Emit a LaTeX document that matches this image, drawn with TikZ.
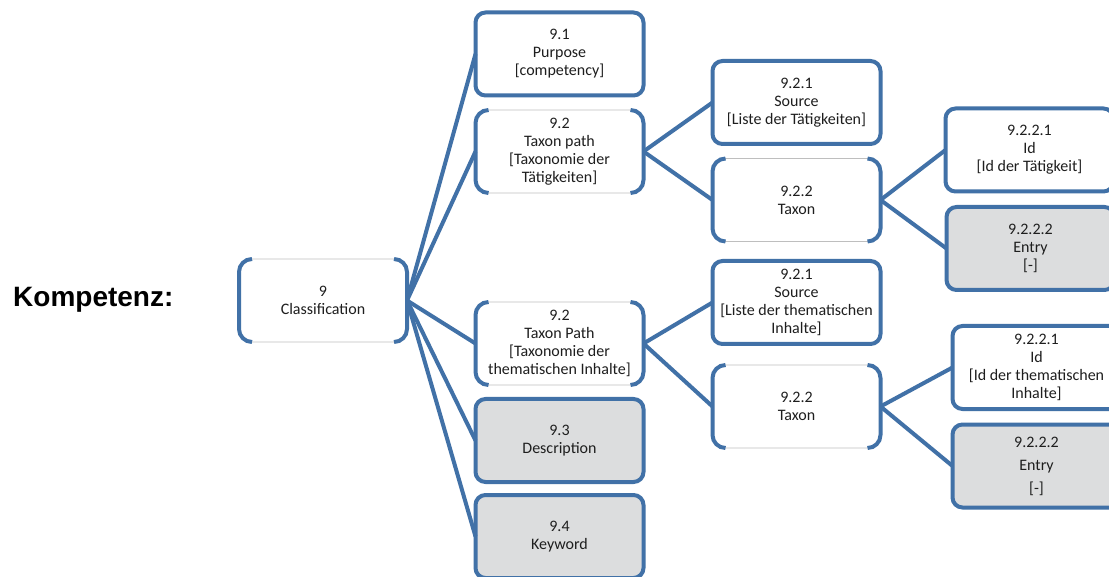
\documentclass[tikz,border=0pt]{standalone}
\usepackage{fontspec}
\setmainfont{Carlito}
\newfontfamily\kfont{Liberation Sans}
\definecolor{bl}{RGB}{65,113,167}
\definecolor{gf}{RGB}{220,221,222}
\definecolor{gl}{RGB}{190,190,190}
\definecolor{tx}{RGB}{30,30,30}
\tikzset{
  boxbase/.style={minimum width=168pt, minimum height=83pt, align=center, outer sep=0pt, inner sep=2pt,
    text=tx, font=\fontsize{16}{18}\selectfont},
  box/.style={boxbase, draw=bl, line width=4pt, rounded corners=10pt, fill=white},
  greybox/.style={box, fill=gf},
  brk/.style={boxbase, draw=gl, line width=0.8pt, rounded corners=13pt, fill=white},
  link/.style={draw=bl, line width=4pt},
  bline/.style={draw=bl, line width=4pt}
}
\newcommand\brkt[1]{%
  \draw[bline] ([xshift=13pt]#1.north west) arc[start angle=90,end angle=180,radius=13pt]
     -- ([yshift=13pt]#1.south west) arc[start angle=180,end angle=270,radius=13pt];
  \draw[bline] ([xshift=-13pt]#1.north east) arc[start angle=90,end angle=0,radius=13pt]
     -- ([yshift=13pt]#1.south east) arc[start angle=0,end angle=-90,radius=13pt];
}
\begin{document}
\begin{tikzpicture}[x=1pt,y=1pt]
\useasboundingbox (0,0) rectangle (1109,-577);
\clip (0,0) rectangle (1109,-577);
\fill[white] (0,0) rectangle (1109,-577);

\node[anchor=base west, inner sep=0pt, font=\kfont\bfseries\fontsize{28}{30}\selectfont] (komp) at (13,-307) {Kompetenz:};

% level 1
\node[brk] (c9) at (323,-300.5) {9\\Classification};
% level 2
\node[box] (n91) at (559.5,-54) {9.1\\Purpose\\{}[competency]};
\node[brk] (n92a) at (559.5,-151.5) {9.2\\Taxon path\\{}[Taxonomie der\\Tätigkeiten]};
\node[brk] (n92b) at (559.5,-343.5) {9.2\\Taxon Path\\{}[Taxonomie der\\thematischen Inhalte]};
\node[greybox] (n93) at (559.5,-440.5) {9.3\\Description};
\node[greybox] (n94) at (559.5,-536.5) {9.4\\Keyword};
% level 3
\node[box] (n921a) at (796.5,-102.5) {9.2.1\\Source\\{}[Liste der Tätigkeiten]};
\node[brk] (n922a) at (796.5,-200) {9.2.2\\Taxon};
\node[box] (n921b) at (796.5,-302.5) {9.2.1\\Source\\{}[Liste der thematischen\\Inhalte]};
\node[brk] (n922b) at (796.5,-406.5) {9.2.2\\Taxon};
% level 4
\node[box] (n9221a) at (1029.5,-150) {9.2.2.1\\Id\\{}[Id der Tätigkeit]};
\node[greybox] (n9222a) at (1030.5,-248.5) {9.2.2.2\\Entry\\{}[-]};
\node[box] (n9221b) at (1036.5,-367.5) {9.2.2.1\\Id\\{}[Id der thematischen\\Inhalte]};
\node[greybox, font=\fontsize{16}{23}\selectfont] (n9222b) at (1036.5,-466) {9.2.2.2\\Entry\\{}[-]};

\brkt{c9}
\brkt{n92a}
\brkt{n92b}
\brkt{n922a}
\brkt{n922b}

% connectors
\foreach \t in {n91,n92a,n92b,n93,n94} \draw[link] (c9.east) -- (\t.west);
\draw[link] (n92a.east) -- (n921a.west);
\draw[link] (n92a.east) -- (n922a.west);
\draw[link] (n92b.east) -- (n921b.west);
\draw[link] (n92b.east) -- (n922b.west);
\draw[link] (n922a.east) -- (n9221a.west);
\draw[link] (n922a.east) -- (n9222a.west);
\draw[link] (n922b.east) -- (n9221b.west);
\draw[link] (n922b.east) -- (n9222b.west);
\end{tikzpicture}
\end{document}
